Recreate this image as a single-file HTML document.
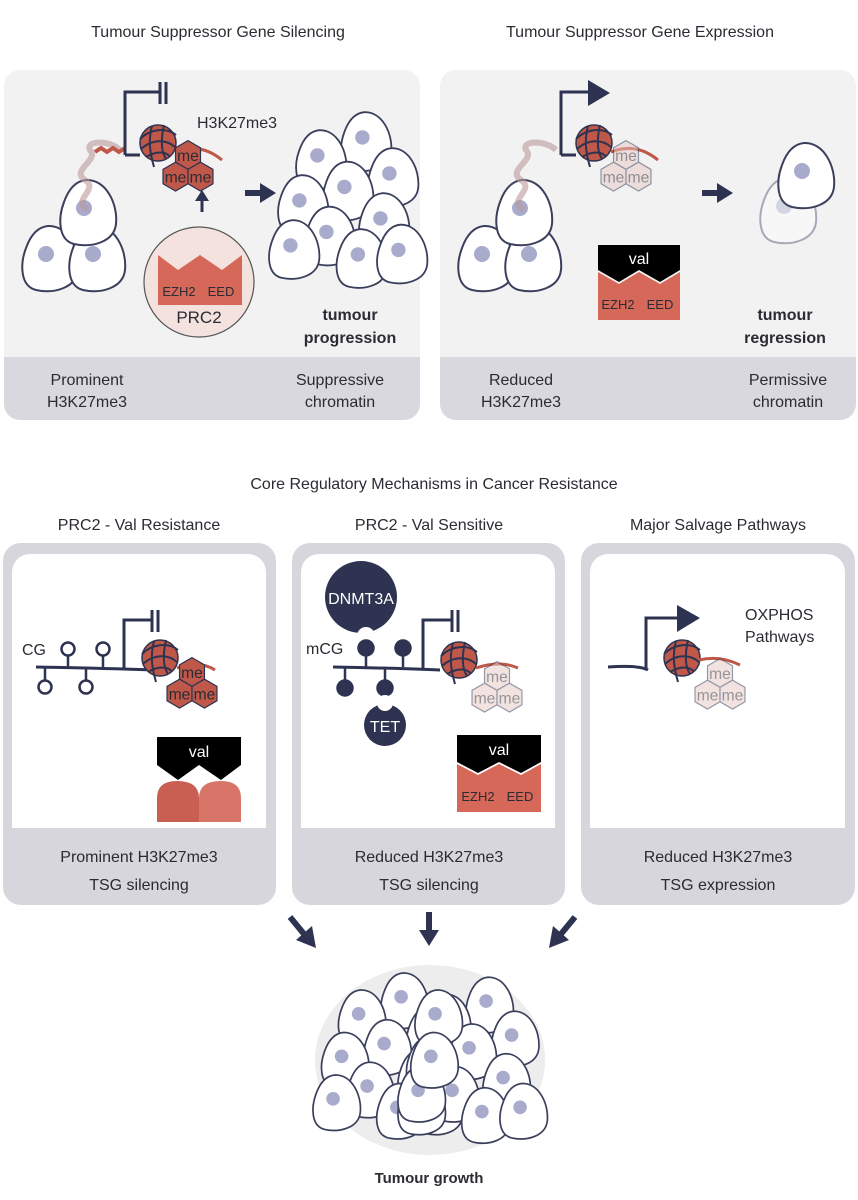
<!DOCTYPE html>
<html><head><meta charset="utf-8"><style>
html,body{margin:0;padding:0;background:#fff}
svg{display:block}
text{font-family:"Liberation Sans",sans-serif;fill:#2b2b33}
</style></head><body>
<svg width="858" height="1200" viewBox="0 0 858 1200" xmlns="http://www.w3.org/2000/svg">
<defs>
<g id="cell">
<path d="M-2,-32 C18,-33 30,-8 28,12 C26,30 4,36 -14,32 C-30,28 -30,6 -24,-10 C-19,-24 -12,-31 -2,-32Z" fill="#fff" stroke="#3a3f5c" stroke-width="2"/>
<circle cx="-4" cy="-4" r="8" fill="#a9abcc"/>
</g>
<g id="nuc">
<circle r="18" fill="#c0584a" stroke="#2d3350" stroke-width="1.5"/>
<path d="M-18,-4 C-8,-14 8,-16 18,-8 M-17,6 C-6,-4 8,-4 17,4 M-12,14 C-2,8 8,8 12,14 M-6,-17 C-10,-2 -8,10 -4,24 M6,-18 C2,0 4,10 8,16" fill="none" stroke="#2d3350" stroke-width="2"/>
</g>
<g id="hex">
<polygon points="0,-12 10.4,-6 10.4,6 0,12 -10.4,6 -10.4,-6" stroke="#2d3350" stroke-width="1"/>
</g>
<g id="me0">
<use href="#hex" x="0" y="0"/><use href="#hex" x="-10.4" y="18"/><use href="#hex" x="10.4" y="18"/>
<text x="0" y="5" font-size="13" text-anchor="middle">me</text>
<text x="-10.4" y="23" font-size="13" text-anchor="middle">me</text>
<text x="10.4" y="23" font-size="13" text-anchor="middle">me</text>
</g>
<g id="me"><use href="#me0" transform="scale(1.2)"/></g>
<g id="cluster">
<use href="#cell" x="20" y="-60"/><use href="#cell" x="-30" y="-40"/><use href="#cell" x="50" y="-20"/>
<use href="#cell" x="0" y="-5"/><use href="#cell" x="-50" y="10"/><use href="#cell" x="40" y="30"/>
<use href="#cell" x="-20" y="45"/><use href="#cell" x="-60" y="60"/><use href="#cell" x="15" y="70"/><use href="#cell" x="60" y="65"/>
</g>
</defs>

<text x="218" y="37" font-size="16" text-anchor="middle">Tumour Suppressor Gene Silencing</text>
<text x="640" y="37" font-size="16" text-anchor="middle">Tumour Suppressor Gene Expression</text>

<rect x="4" y="70" width="416" height="350" rx="16" fill="#f2f2f3"/>
<path d="M4,357 H420 V404 a16,16 0 0 1 -16,16 H20 a16,16 0 0 1 -16,-16Z" fill="#d8d8de"/>
<rect x="440" y="70" width="416" height="350" rx="16" fill="#f2f2f3"/>
<path d="M440,357 H856 V404 a16,16 0 0 1 -16,16 H456 a16,16 0 0 1 -16,-16Z" fill="#d8d8de"/>

<g font-size="16" text-anchor="middle">
<text x="87" y="385">Prominent</text><text x="87" y="407">H3K27me3</text>
<text x="340" y="385">Suppressive</text><text x="340" y="407">chromatin</text>
<text x="521" y="385">Reduced</text><text x="521" y="407">H3K27me3</text>
<text x="788" y="385">Permissive</text><text x="788" y="407">chromatin</text>
</g>

<!-- TL panel -->
<use href="#cell" x="50" y="258"/><use href="#cell" x="97" y="258"/><use href="#cell" x="88" y="212"/>
<path d="M88,210 C70,200 100,190 85,180 C70,170 100,160 90,150 C85,140 110,140 120,150" fill="none" stroke="#b99" stroke-width="6" opacity="0.6"/>
<path d="M95,152 l6,-4 l6,4 l6,-4 l6,4 l6,-4" fill="none" stroke="#c0584a" stroke-width="4"/>
<path d="M125,155 V92 H160" fill="none" stroke="#2d3350" stroke-width="3"/>
<path d="M160,82 V104 M166,82 V104" stroke="#2d3350" stroke-width="3"/>
<path d="M125,155 H140" fill="none" stroke="#2d3350" stroke-width="3"/>
<use href="#nuc" x="158" y="143"/>
<path d="M175,152 Q200,142 222,160" fill="none" stroke="#c0584a" stroke-width="3"/>
<text x="197" y="128" font-size="16">H3K27me3</text>
<g fill="#c0584a"><use href="#me" x="188" y="155"/></g>
<path d="M202,212 V198" stroke="#2d3350" stroke-width="3"/><polygon points="195,201 202,190 209,201" fill="#2d3350"/>
<circle cx="199" cy="282" r="55" fill="#f4e2df" stroke="#555" stroke-width="1.2"/>
<polygon points="158,255 178,270 200,255 222,270 242,255 242,305 158,305" fill="#d6685a"/>
<text x="179" y="296" font-size="13" text-anchor="middle">EZH2</text>
<text x="221" y="296" font-size="13" text-anchor="middle">EED</text>
<text x="199" y="323" font-size="17" text-anchor="middle">PRC2</text>
<path d="M245,193 H262" stroke="#2d3350" stroke-width="6"/><polygon points="260,183 276,193 260,203" fill="#2d3350"/>
<g transform="translate(348,195) scale(0.9)"><use href="#cluster"/></g>
<text x="350" y="320" font-size="16" font-weight="bold" text-anchor="middle">tumour</text>
<text x="350" y="343" font-size="16" font-weight="bold" text-anchor="middle">progression</text>

<!-- TR panel -->
<use href="#cell" x="486" y="258"/><use href="#cell" x="533" y="258"/><use href="#cell" x="524" y="212"/>
<path d="M524,210 C506,200 536,190 521,180 C506,170 536,160 526,150 C521,140 546,140 556,150" fill="none" stroke="#b99" stroke-width="6" opacity="0.6"/>
<path d="M561,155 V92 H590" fill="none" stroke="#2d3350" stroke-width="3"/>
<polygon points="588,80 610,93 588,106" fill="#2d3350"/>
<path d="M561,155 H576" fill="none" stroke="#2d3350" stroke-width="3"/>
<use href="#nuc" x="594" y="143"/>
<path d="M611,152 Q636,142 658,160" fill="none" stroke="#c0584a" stroke-width="3"/>
<g fill="#e8c8c3" opacity="0.5"><use href="#me" x="626" y="155"/></g>
<path d="M702,193 H719" stroke="#2d3350" stroke-width="6"/><polygon points="717,183 733,193 717,203" fill="#2d3350"/>
<g opacity="0.4"><use href="#cell" x="788" y="210"/></g>
<use href="#cell" x="806" y="175"/>
<polygon points="598,245 680,245 680,270 660,282 639,270 619,282 598,270" fill="#000"/>
<polygon points="598,272 619,284 639,272 660,284 680,272 680,320 598,320" fill="#d6685a"/>
<text x="639" y="264" font-size="16" text-anchor="middle" style="fill:#fff">val</text>
<text x="618" y="309" font-size="13" text-anchor="middle">EZH2</text>
<text x="660" y="309" font-size="13" text-anchor="middle">EED</text>
<text x="785" y="320" font-size="16" font-weight="bold" text-anchor="middle">tumour</text>
<text x="785" y="343" font-size="16" font-weight="bold" text-anchor="middle">regression</text>

<text x="434" y="489" font-size="16" text-anchor="middle">Core Regulatory Mechanisms in Cancer Resistance</text>
<text x="139" y="530" font-size="16" text-anchor="middle">PRC2 - Val Resistance</text>
<text x="429" y="530" font-size="16" text-anchor="middle">PRC2 - Val Sensitive</text>
<text x="718" y="530" font-size="16" text-anchor="middle">Major Salvage Pathways</text>

<g>
<rect x="3" y="543" width="273" height="362" rx="18" fill="#d6d6dc"/>
<path d="M12,572 a18,18 0 0 1 18,-18 H248 a18,18 0 0 1 18,18 V828 H12Z" fill="#fff"/>
<rect x="292" y="543" width="273" height="362" rx="18" fill="#d6d6dc"/>
<path d="M301,572 a18,18 0 0 1 18,-18 H537 a18,18 0 0 1 18,18 V828 H301Z" fill="#fff"/>
<rect x="581" y="543" width="274" height="362" rx="18" fill="#d6d6dc"/>
<path d="M590,572 a18,18 0 0 1 18,-18 H827 a18,18 0 0 1 18,18 V828 H590Z" fill="#fff"/>
</g>
<g font-size="16" text-anchor="middle">
<text x="139" y="862">Prominent H3K27me3</text><text x="139" y="890">TSG silencing</text>
<text x="429" y="862">Reduced H3K27me3</text><text x="429" y="890">TSG silencing</text>
<text x="718" y="862">Reduced H3K27me3</text><text x="718" y="890">TSG expression</text>
</g>

<!-- panel 1 -->
<text x="22" y="655" font-size="16">CG</text>
<path d="M36,667 Q90,668 160,670 M124,670 V620 H152" fill="none" stroke="#2d3350" stroke-width="3"/>
<path d="M152,610 V632 M158,610 V632" stroke="#2d3350" stroke-width="3"/>
<g fill="#fff" stroke="#2d3350" stroke-width="2.5">
<path d="M68,667 V656 M103,667 V656 M45,668 V680 M86,668 V680"/>
<circle cx="68" cy="649" r="6.5"/><circle cx="103" cy="649" r="6.5"/><circle cx="45" cy="687" r="6.5"/><circle cx="86" cy="687" r="6.5"/>
</g>
<use href="#nuc" x="160" y="658"/>
<path d="M177,668 Q200,660 215,670" fill="none" stroke="#c0584a" stroke-width="3"/>
<g fill="#c0584a"><use href="#me" x="192" y="672"/></g>
<polygon points="157,737 241,737 241,765 221,780 199,765 178,780 157,765" fill="#000"/>
<text x="199" y="757" font-size="16" text-anchor="middle" style="fill:#fff">val</text>
<path d="M157,822 V798 Q157,781 177,781 Q199,781 199,798 V822Z" fill="#c85f52"/>
<path d="M199,822 V798 Q199,781 221,781 Q241,781 241,798 V822Z" fill="#d87468"/>

<!-- panel 2 -->
<circle cx="361" cy="597" r="36" fill="#2d3350"/>
<circle cx="366" cy="636" r="9" fill="#fff"/>
<text x="361" y="604" font-size="16" text-anchor="middle" style="fill:#fff">DNMT3A</text>
<text x="306" y="654" font-size="16">mCG</text>
<path d="M333,667 Q390,668 440,670 M423,670 V620 H452" fill="none" stroke="#2d3350" stroke-width="3"/>
<path d="M452,610 V632 M458,610 V632" stroke="#2d3350" stroke-width="3"/>
<g fill="#2d3350" stroke="#2d3350" stroke-width="2.5">
<path d="M366,667 V656 M403,667 V656 M345,668 V680 M385,668 V680"/>
<circle cx="366" cy="648" r="7.5"/><circle cx="403" cy="648" r="7.5"/><circle cx="345" cy="688" r="7.5"/><circle cx="385" cy="688" r="7.5"/>
</g>
<circle cx="385" cy="725" r="21" fill="#2d3350"/>
<circle cx="385" cy="703" r="8" fill="#fff"/>
<text x="385" y="732" font-size="16" text-anchor="middle" style="fill:#fff">TET</text>
<use href="#nuc" x="459" y="660"/>
<path d="M476,668 Q500,660 518,668" fill="none" stroke="#c0584a" stroke-width="3"/>
<g fill="#e8c8c3" opacity="0.5"><use href="#me" x="497" y="676"/></g>
<polygon points="457,735 541,735 541,762 521,773 499,762 478,773 457,762" fill="#000"/>
<text x="499" y="755" font-size="16" text-anchor="middle" style="fill:#fff">val</text>
<polygon points="457,764 478,775 499,764 521,775 541,764 541,812 457,812" fill="#d6685a"/>
<text x="478" y="801" font-size="13" text-anchor="middle">EZH2</text>
<text x="520" y="801" font-size="13" text-anchor="middle">EED</text>

<!-- panel 3 -->
<path d="M608,667 Q640,665 648,670 M646,669 V618 H680" fill="none" stroke="#2d3350" stroke-width="3"/>
<polygon points="677,605 700,618 677,632" fill="#2d3350"/>
<use href="#nuc" x="682" y="658"/>
<path d="M699,660 Q720,655 740,665" fill="none" stroke="#c0584a" stroke-width="3"/>
<g fill="#e8c8c3" opacity="0.5"><use href="#me" x="720" y="673"/></g>
<text x="745" y="620" font-size="16">OXPHOS</text>
<text x="745" y="642" font-size="16">Pathways</text>

<!-- arrows -->
<path d="M290,917 L304,934" stroke="#2d3350" stroke-width="6"/><polygon points="296,940 316,948 312,926" fill="#2d3350"/>
<path d="M429,912 V932" stroke="#2d3350" stroke-width="6"/><polygon points="419,930 439,930 429,946" fill="#2d3350"/>
<path d="M575,917 L561,934" stroke="#2d3350" stroke-width="6"/><polygon points="569,940 549,948 553,926" fill="#2d3350"/>

<!-- tumour growth cluster -->
<ellipse cx="430" cy="1060" rx="115" ry="95" fill="#888" opacity="0.15"/>
<g transform="translate(430,1058) scale(0.85) translate(-430,-1058)">
<use href="#cluster" x="380" y="1050"/>
<use href="#cluster" x="480" y="1055"/>
<use href="#cell" x="440" y="1010"/><use href="#cell" x="420" y="1100"/><use href="#cell" x="435" y="1060"/>
</g>
<text x="429" y="1183" font-size="15" font-weight="bold" text-anchor="middle">Tumour growth</text>
</svg>
</body></html>
